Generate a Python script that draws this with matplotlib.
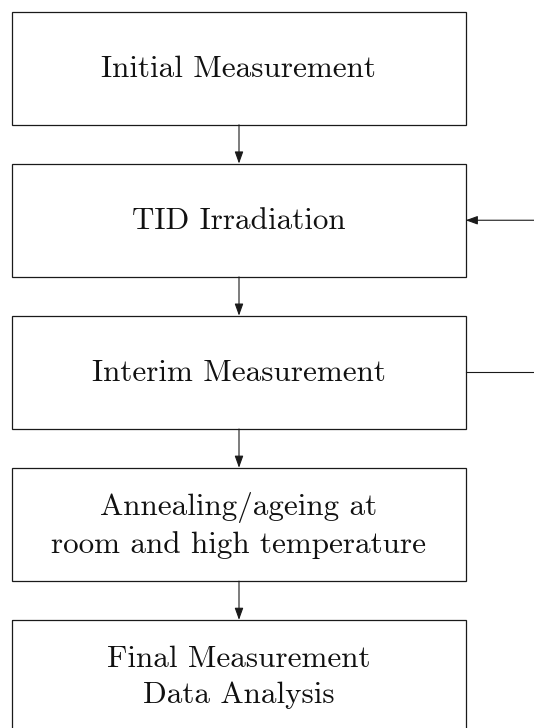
import matplotlib.pyplot as plt
from matplotlib.patches import Rectangle

plt.rcParams["font.family"] = ["cmr10", "DejaVu Serif"]
plt.rcParams["axes.unicode_minus"] = False

# flow steps, top to bottom
steps = ["Initial Measurement",
         "TID Irradiation",
         "Interim Measurement",
         "Annealing/ageing at\nroom and high temperature",
         "Final Measurement\nData Analysis"]
# loop: from step 2 (Interim) back into step 1 (TID)
loop_from = 2
loop_to = 1

# layout (pixels)
W, H = 534, 728
left, right = 11.5, 465.7
top0, box_h, gap = 11.5, 113.3, 38.8
mid_x = 239
col = "#1a1a1a"

fig = plt.figure(figsize=(W / 100, H / 100), dpi=100)
ax = fig.add_axes([0, 0, 1, 1])
ax.set_xlim(0, W)
ax.set_ylim(H, 0)
ax.axis("off")

tops = [top0 + i * (box_h + gap) for i in range(len(steps))]

for i, (name, t) in enumerate(zip(steps, tops)):
    ax.add_patch(Rectangle((left, t), right - left, box_h, fill=False,
                           edgecolor=col, linewidth=0.9))
    ax.text((left + right) / 2, t + box_h / 2 + 1, name, ha="center", va="center",
            fontsize=22.4, color="#111111", linespacing=1.4)
    if i < len(steps) - 1:
        ax.annotate("", xy=(mid_x, tops[i + 1]), xytext=(mid_x, t + box_h),
                    arrowprops=dict(arrowstyle="-|>,head_length=0.36,head_width=0.13",
                                    mutation_scale=20, color=col, lw=0.8,
                                    shrinkA=0, shrinkB=0))

# feedback loop lines on the right
y_from = tops[loop_from] + box_h / 2
y_to = tops[loop_to] + box_h / 2
ax.plot([right, W + 5], [y_from, y_from], color=col, lw=0.8)
ax.annotate("", xy=(right, y_to), xytext=(W + 5, y_to),
            arrowprops=dict(arrowstyle="-|>,head_length=0.36,head_width=0.13",
                            mutation_scale=20, color=col, lw=0.8,
                            shrinkA=0, shrinkB=0))

fig.savefig("out.png", dpi=100)
